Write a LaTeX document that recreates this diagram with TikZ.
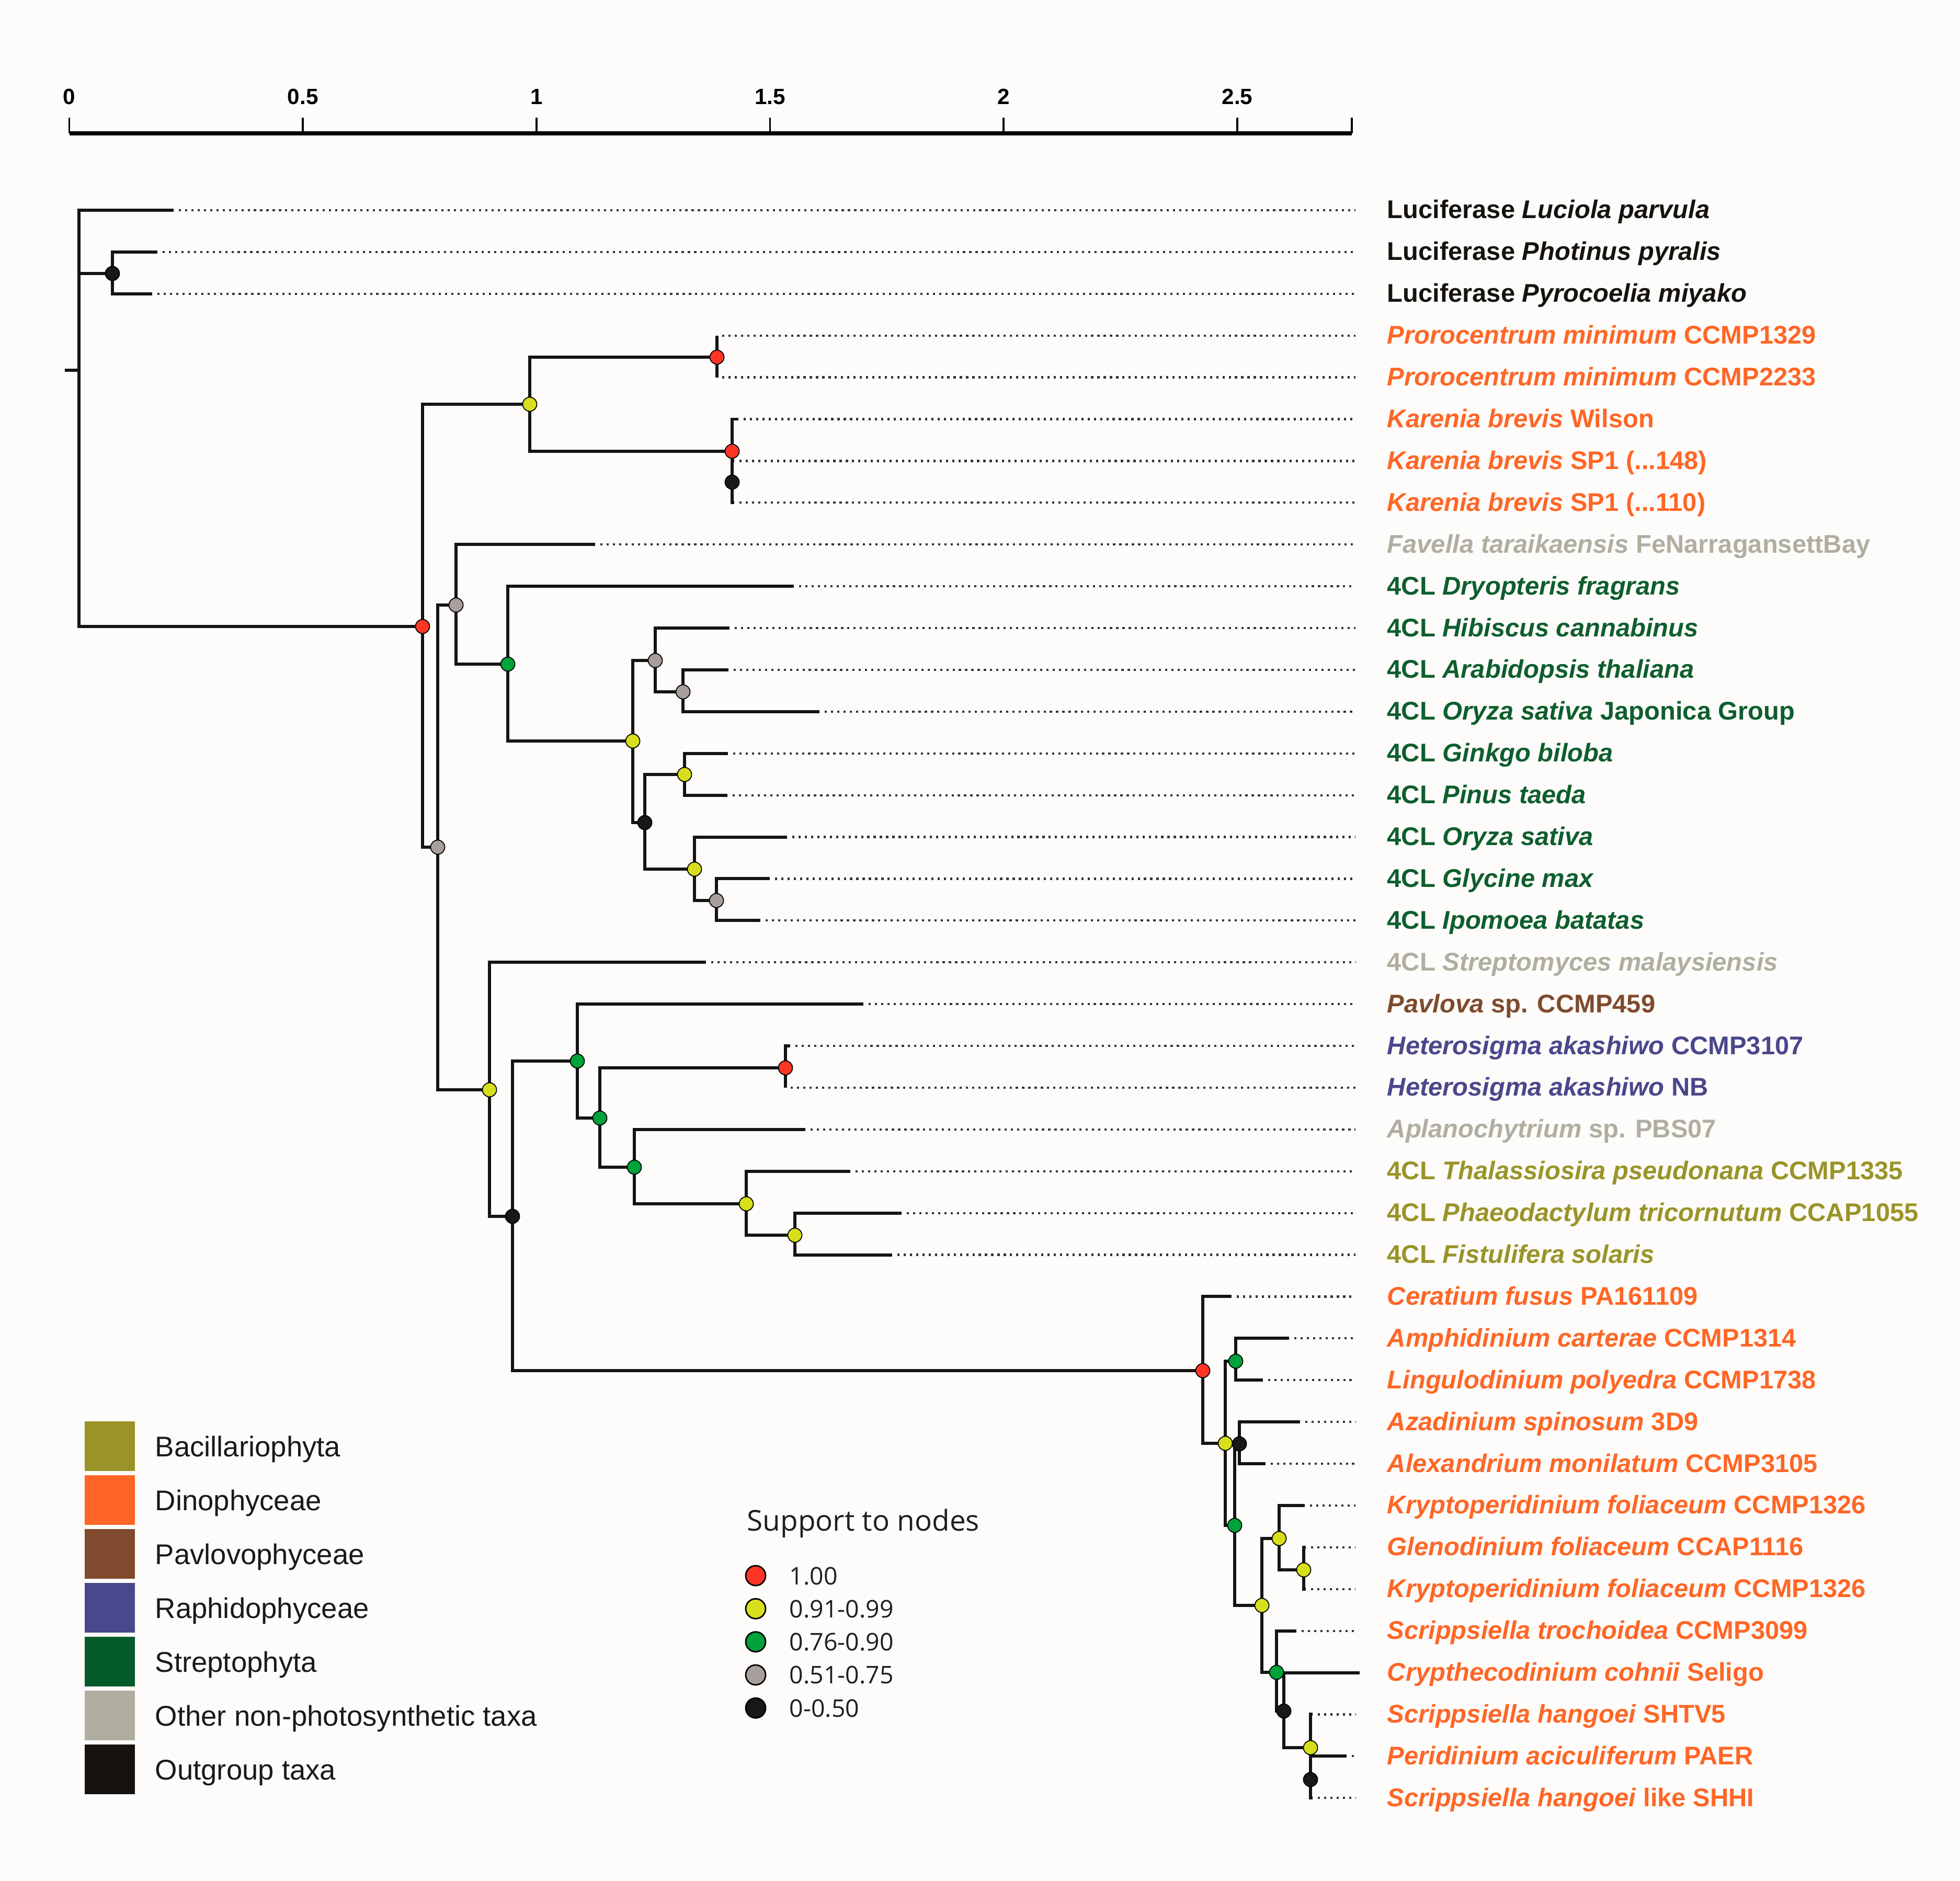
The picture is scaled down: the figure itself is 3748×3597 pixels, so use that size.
\documentclass[tikz,border=0pt]{standalone}
\usepackage{fontspec}
\setmainfont{Liberation Sans}
\newfontfamily\opensans{Open Sans}
\usetikzlibrary{calc}
\definecolor{bgc}{HTML}{FDFCFA}
\definecolor{cOut}{HTML}{15120F}
\definecolor{cDino}{HTML}{FF6626}
\definecolor{cPav}{HTML}{7F4A2D}
\definecolor{cRaph}{HTML}{4B478C}
\definecolor{cStrep}{HTML}{045A2B}
\definecolor{cStrepT}{HTML}{0E5E2E}
\definecolor{cOther}{HTML}{AFAEA0}
\definecolor{cBac}{HTML}{9A9428}
\definecolor{nRed}{HTML}{FF3526}
\definecolor{nYel}{HTML}{D7DE1B}
\definecolor{nGrn}{HTML}{00A23A}
\definecolor{nGry}{HTML}{A89E9B}
\definecolor{nBlk}{HTML}{1A1816}
\tikzset{
  br/.style={line width=1.7pt, draw=black!92},
  dotln/.style={line width=1.2pt, dash pattern=on 1.2pt off 2.2pt, draw=black!80},
  lab/.style={anchor=base west, inner sep=0pt, font=\fontsize{13.9pt}{16pt}\selectfont\bfseries},
  sup/.style={circle, draw=black, line width=0.5pt, minimum size=0.27cm, inner sep=0pt},
  axlab/.style={anchor=base, inner sep=0pt, font=\fontsize{12pt}{14pt}\selectfont\bfseries},
  leglab/.style={anchor=base west, inner sep=0pt, font=\fontsize{15.5pt}{18pt}\selectfont},
  supleg/.style={circle, draw=black, line width=0.8pt, minimum size=0.38cm, inner sep=0pt},
  suplab/.style={anchor=base west, inner sep=0pt, font=\opensans\fontsize{13.2pt}{16pt}\selectfont, text=black!88},
}
\newcommand\mytip[5]{%
  \coordinate (t#1) at (#3,{402+79.9*(#1-1)});
  \draw[br] (#2) |- (t#1);
  \coordinate (ds#1) at ({#3+10},{402+79.9*(#1-1)});
  \coordinate (de#1) at (2592,{402+79.9*(#1-1)});
  \draw[dotln] (ds#1) -- (de#1);
  \node[lab,text=#4] (l#1) at (2652,{418+79.9*(#1-1)}) {#5};
}
\begin{document}
\begin{tikzpicture}[x=0.01cm,y=-0.01cm]
\fill[bgc] (0,0) rectangle (3748,3597);
\useasboundingbox (0,0) rectangle (3748,3597);

% ---------- scale axis ----------
\coordinate (ax0) at (132.6,255);
\coordinate (ax1) at (2585,255);
\draw[line width=2pt] (ax0) -- (ax1);
\foreach \v/\t [count=\k] in {0/0,0.5/0.5,1/1,1.5/1.5,2/2,2.5/2.5}{
  \coordinate (tk\k) at ({132.6+893.3*\v},255);
  \coordinate (tt\k) at ({132.6+893.3*\v},225);
  \draw[line width=1pt] (tk\k) -- (tt\k);
  \node[axlab] (al\k) at ({132.6+893.3*\v},200) {\t};
}
\coordinate (tkE) at (2585,225);
\draw[line width=1pt] (ax1) -- (tkE);

% ---------- internal nodes ----------
\coordinate (root) at (151,708);
\coordinate (rs) at (124,708);
\coordinate (nL23) at (215,523);
\coordinate (nBig) at (808,1198);
\coordinate (nA) at (1013,773);
\coordinate (nPro) at (1371,683);
\coordinate (nKar) at (1400,863);
\coordinate (nK78) at (1400,922);
\coordinate (nG2) at (837,1620);
\coordinate (nGF) at (872,1157);
\coordinate (nGrn) at (971,1270);
\coordinate (nY1) at (1210,1417);
\coordinate (nGH) at (1253,1263);
\coordinate (nGA) at (1306,1323);
\coordinate (nB1) at (1233,1573);
\coordinate (nYG) at (1309,1481);
\coordinate (nYO) at (1328,1662);
\coordinate (nGG) at (1370,1722);
\coordinate (nYS) at (936,2084);
\coordinate (nBS) at (980,2326);
\coordinate (nGP) at (1104,2029);
\coordinate (nGH2) at (1147,2138);
\coordinate (nRH) at (1502,2042);
\coordinate (nGAp) at (1213,2232);
\coordinate (nYT) at (1427,2302);
\coordinate (nYPh) at (1520,2362);
\coordinate (nRD) at (2300,2621);
\coordinate (nYD1) at (2343,2760);
\coordinate (nGAm) at (2363,2603);
\coordinate (nGD2) at (2361,2917);
\coordinate (nBAz) at (2370,2761);
\coordinate (nYK) at (2413,3070);
\coordinate (nYK2) at (2446,2942);
\coordinate (nYGl) at (2493,3002);
\coordinate (nGSc) at (2441,3198);
\coordinate (nBCr) at (2455,3272);
\coordinate (nYSh) at (2506,3342);
\coordinate (nBPe) at (2506,3403);

% ---------- internal branches ----------
\draw[br] (rs) -- (root);
\foreach \p/\c in {root/nL23, root/nBig, nBig/nA, nBig/nG2, nA/nPro, nA/nKar, nKar/nK78,
  nG2/nGF, nG2/nYS, nGF/nGrn, nGrn/nY1, nY1/nGH, nY1/nB1, nGH/nGA, nB1/nYG, nB1/nYO, nYO/nGG,
  nYS/nBS, nBS/nGP, nBS/nRD, nGP/nGH2, nGH2/nRH, nGH2/nGAp, nGAp/nYT, nYT/nYPh,
  nRD/nYD1, nYD1/nGAm, nYD1/nGD2, nGD2/nBAz, nGD2/nYK, nYK/nYK2, nYK/nGSc, nYK2/nYGl,
  nGSc/nBCr, nBCr/nYSh, nYSh/nBPe}{
  \draw[br] (\p) |- (\c);
}

% ---------- tips ----------
\mytip{1}{root}{332}{cOut}{Luciferase \textit{Luciola parvula}}
\mytip{2}{nL23}{301}{cOut}{Luciferase \textit{Photinus pyralis}}
\mytip{3}{nL23}{291}{cOut}{Luciferase \textit{Pyrocoelia miyako}}
\mytip{4}{nPro}{1371}{cDino}{\textit{Prorocentrum minimum} CCMP1329}
\mytip{5}{nPro}{1371}{cDino}{\textit{Prorocentrum minimum} CCMP2233}
\mytip{6}{nKar}{1412}{cDino}{\textit{Karenia brevis} Wilson}
\mytip{7}{nK78}{1404}{cDino}{\textit{Karenia brevis} SP1 (...148)}
\mytip{8}{nK78}{1404}{cDino}{\textit{Karenia brevis} SP1 (...110)}
\mytip{9}{nGF}{1138}{cOther}{\textit{Favella taraikaensis} FeNarragansettBay}
\mytip{10}{nGrn}{1518}{cStrepT}{4CL \textit{Dryopteris fragrans}}
\mytip{11}{nGH}{1395}{cStrepT}{4CL \textit{Hibiscus cannabinus}}
\mytip{12}{nGA}{1393}{cStrepT}{4CL \textit{Arabidopsis thaliana}}
\mytip{13}{nGA}{1567}{cStrepT}{4CL \textit{Oryza sativa} Japonica Group}
\mytip{14}{nYG}{1392}{cStrepT}{4CL \textit{Ginkgo biloba}}
\mytip{15}{nYG}{1391}{cStrepT}{4CL \textit{Pinus taeda}}
\mytip{16}{nYO}{1505}{cStrepT}{4CL \textit{Oryza sativa}}
\mytip{17}{nGG}{1472}{cStrepT}{4CL \textit{Glycine max}}
\mytip{18}{nGG}{1454}{cStrepT}{4CL \textit{Ipomoea batatas}}
\mytip{19}{nYS}{1350}{cOther}{4CL \textit{Streptomyces malaysiensis}}
\mytip{20}{nGP}{1651}{cPav}{\textit{Pavlova} sp. CCMP459}
\mytip{21}{nRH}{1511}{cRaph}{\textit{Heterosigma akashiwo} CCMP3107}
\mytip{22}{nRH}{1502}{cRaph}{\textit{Heterosigma akashiwo} NB}
\mytip{23}{nGAp}{1540}{cOther}{\textit{Aplanochytrium} sp. PBS07}
\mytip{24}{nYT}{1626}{cBac}{4CL \textit{Thalassiosira pseudonana} CCMP1335}
\mytip{25}{nYPh}{1724}{cBac}{4CL \textit{Phaeodactylum tricornutum} CCAP1055}
\mytip{26}{nYPh}{1706}{cBac}{4CL \textit{Fistulifera solaris}}
\mytip{27}{nRD}{2355}{cDino}{\textit{Ceratium fusus} PA161109}
\mytip{28}{nGAm}{2465}{cDino}{\textit{Amphidinium carterae} CCMP1314}
\mytip{29}{nGAm}{2415}{cDino}{\textit{Lingulodinium polyedra} CCMP1738}
\mytip{30}{nBAz}{2486}{cDino}{\textit{Azadinium spinosum} 3D9}
\mytip{31}{nBAz}{2420}{cDino}{\textit{Alexandrium monilatum} CCMP3105}
\mytip{32}{nYK2}{2495}{cDino}{\textit{Kryptoperidinium foliaceum} CCMP1326}
\mytip{33}{nYGl}{2497}{cDino}{\textit{Glenodinium foliaceum} CCAP1116}
\mytip{34}{nYGl}{2497}{cDino}{\textit{Kryptoperidinium foliaceum} CCMP1326}
\mytip{35}{nGSc}{2479}{cDino}{\textit{Scrippsiella trochoidea} CCMP3099}
\coordinate (t36) at (2600,3198.5);
\draw[br] (nBCr) |- (t36);
\node[lab,text=cDino] (l36) at (2652,3214.5) {\textit{Crypthecodinium cohnii} Seligo};
\mytip{37}{nYSh}{2510}{cDino}{\textit{Scrippsiella hangoei} SHTV5}
\mytip{38}{nBPe}{2575}{cDino}{\textit{Peridinium aciculiferum} PAER}
\mytip{39}{nBPe}{2510}{cDino}{\textit{Scrippsiella hangoei} like SHHI}

% ---------- support circles ----------
\foreach \n in {nBig,nPro,nKar,nRH,nRD}{\node[sup,fill=nRed] (c\n) at (\n) {};}
\foreach \n in {nA,nY1,nYG,nYO,nYS,nYT,nYPh,nYD1,nYK,nYK2,nYGl,nYSh}{\node[sup,fill=nYel] (c\n) at (\n) {};}
\foreach \n in {nGrn,nGP,nGH2,nGAp,nGAm,nGD2,nGSc}{\node[sup,fill=nGrn] (c\n) at (\n) {};}
\foreach \n in {nGF,nG2,nGH,nGA,nGG}{\node[sup,fill=nGry] (c\n) at (\n) {};}
\foreach \n in {nL23,nK78,nB1,nBS,nBAz,nBCr,nBPe}{\node[sup,fill=nBlk] (c\n) at (\n) {};}

% ---------- colour legend ----------
\foreach \col/\txt [count=\k] in {cBac/Bacillariophyta, cDino/Dinophyceae, cPav/Pavlovophyceae,
  cRaph/Raphidophyceae, cStrep/Streptophyta, cOther/Other non-photosynthetic taxa, cOut/Outgroup taxa}{
  \fill[\col] (162,{2718+103*(\k-1)}) rectangle (257.5,{2813+103*(\k-1)});
  \node[leglab,text=black!90] (lg\k) at (296,{2785+103*(\k-1)}) {\txt};
}

% ---------- support legend ----------
\node[anchor=base west, inner sep=0pt, font=\opensans\fontsize{15.6pt}{18pt}\selectfont, text=black!88] (stitle) at (1428,2927) {Support to nodes};
\foreach \col/\txt [count=\k] in {nRed/1.00, nYel/0.91-0.99, nGrn/0.76-0.90, nGry/0.51-0.75, nBlk/0-0.50}{
  \node[supleg,fill=\col] (sc\k) at (1445,{3013+63.3*(\k-1)}) {};
  \node[suplab] (sl\k) at (1509,{3030+63.3*(\k-1)}) {\txt};
}
\end{tikzpicture}
\end{document}
